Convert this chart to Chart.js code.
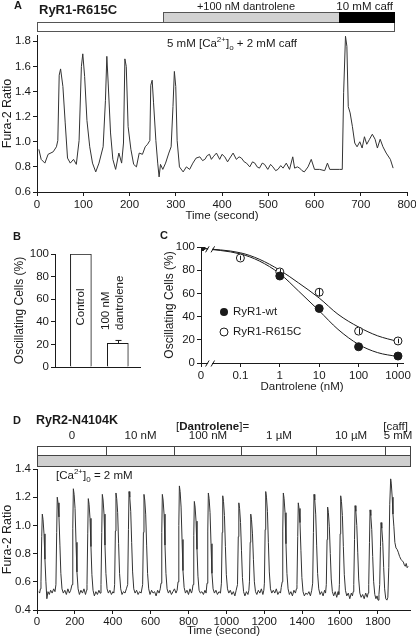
<!DOCTYPE html>
<html>
<head>
<meta charset="utf-8">
<script src="https://cdn.jsdelivr.net/npm/chart.js@4.4.1/dist/chart.umd.min.js"></script>
<style>
  body { margin: 0; background: #fff; }
  #fig { position: relative; width: 416px; height: 641px; overflow: hidden; font-family: "Liberation Sans", Arial, Helvetica, sans-serif; color: #1a1a1a; }
  #fig canvas { position: absolute; }
  .t { position: absolute; white-space: nowrap; font-size: 11.5px; line-height: 14px; }
  .b { font-weight: bold; }
  sup, sub { font-size: 8px; line-height: 0; }
</style>
</head>
<body>
<div id="fig">
  <canvas id="cA" width="420" height="225" style="left:0;top:0"></canvas>
  <canvas id="cB" width="150" height="160" style="left:0;top:228px"></canvas>
  <canvas id="cC" width="270" height="170" style="left:150px;top:228px"></canvas>
  <canvas id="cD" width="420" height="226" style="left:0;top:415px"></canvas>

  <div class="t b" style="left:14px;top:-2px;font-size:11px">A</div>
  <div class="t b" style="left:39px;top:3px;font-size:13px">RyR1-R615C</div>
  <div class="t" style="left:246px;top:-1px;transform:translateX(-50%);font-size:11px">+100 nM dantrolene</div>
  <div class="t" style="right:23px;top:-1px">10 mM caff</div>
  <div class="t" style="left:232px;top:36px;transform:translateX(-50%)">5 mM [Ca<sup>2+</sup>]<sub>o</sub> + 2 mM caff</div>

  <div class="t b" style="left:13px;top:229px;font-size:11px">B</div>
  <div class="t b" style="left:160px;top:228px;font-size:11px">C</div>

  <div class="t b" style="left:13px;top:413px;font-size:11px">D</div>
  <div class="t b" style="left:36px;top:413px;font-size:12.5px">RyR2-N4104K</div>
  <div class="t" style="left:176px;top:419px">[<b>Dantrolene</b>]=</div>
  <div class="t" style="right:8px;top:419px">[caff]</div>
  <div class="t" style="left:56px;top:468px">[Ca<sup>2+</sup>]<sub>0</sub> = 2 mM</div>
</div>

<script>
const FONT = '"Liberation Sans", Arial, Helvetica, sans-serif';
const INK = '#1a1a1a';

// ---- panel A: fura-2 trace, RyR1-R615C  [time (s), ratio]
const traceA = [
  [4,0.94],[9,0.86],[17,0.83],[24,0.90],[35,0.92],[42,0.96],[45,1.01],[48,1.53],[51,1.58],[56,1.44],
  [61,1.15],[66,0.87],[72,0.83],[79,0.86],[85,0.82],[91,1.01],[96,1.60],[99,1.70],[103,1.52],[108,1.17],
  [114,0.96],[120,0.83],[127,0.76],[134,0.83],[143,0.96],[148,1.33],[151,1.68],[154,1.46],[159,1.07],[164,0.86],
  [170,0.78],[177,0.91],[183,0.83],[187,0.99],[190,1.66],[193,1.60],[197,1.12],[203,0.94],[209,0.82],[215,0.80],
  [221,0.91],[228,0.90],[234,0.96],[239,0.98],[244,1.01],[246,1.45],[249,1.49],[252,1.31],[257,1.01],[261,0.83],
  [264,0.72],[267,0.82],[272,0.78],[278,0.83],[285,0.91],[290,0.96],[294,1.28],[297,1.56],[300,1.44],[303,1.01],
  [308,0.80],[316,0.76],[323,0.80],[330,0.78],[337,0.83],[344,0.87],[352,0.88],[358,0.85],[363,0.86],[368,0.89],
  [373,0.90],[377,0.86],[381,0.88],[388,0.91],[395,0.86],[400,0.90],[406,0.88],[412,0.84],[417,0.87],[424,0.91],
  [431,0.86],[437,0.88],[442,0.87],[448,0.84],[453,0.83],[460,0.80],[466,0.84],[471,0.83],[476,0.80],[481,0.79],
  [487,0.83],[492,0.82],[499,0.78],[505,0.82],[510,0.80],[516,0.77],[521,0.78],[527,0.81],[532,0.79],[539,0.83],
  [546,0.78],[553,0.88],[557,0.79],[563,0.80],[568,0.79],[573,0.77],[578,0.76],[586,0.80],[593,0.86],[600,0.78],
  [611,0.78],[622,0.77],[628,0.83],[633,0.78],[640,0.78],[654,0.78],[660,0.78],[663,1.39],[667,1.84],[670,1.76],
  [673,1.28],[677,1.23],[682,1.12],[687,0.99],[692,0.96],[698,1.00],[703,0.95],[708,1.04],[713,0.98],[719,1.02],
  [725,1.06],[731,1.02],[736,0.95],[742,1.02],[748,0.96],[755,0.91],[764,0.86],[770,0.79]
];
const barTimesA = [0, 272, 653, 772];          // record start | +dantrolene | 10 mM caff | end
const xTicksA = [0, 100, 200, 300, 400, 500, 600, 700, 800];
const yTicksA = [0.6, 0.8, 1.0, 1.2, 1.4, 1.6, 1.8];

// ---- panel B: oscillating cells
const groupsB = [['Control'], ['100 nM', 'dantrolene']];
const pctB = [100, 21];
const errB = [0, 2.5];
const yTicksB = [0, 20, 40, 60, 80, 100];

// ---- panel C: dose response (0 nM drawn at the axis break)
const concC = [0, 0.1, 1, 10, 100, 1000];
const wtC = [100, null, 75, 47, 14, 6];
const wtErrC = [0, 0, 2, 3, 1.5, 1];
const mutC = [100, 90.5, 78.5, 61, 27.5, 19];
const mutErrC = [0, 2, 2.5, 3.5, 2.5, 2];
const fitConcC = [0, 0.1, 0.3, 1, 3, 10, 30, 100, 300, 1000];
const wtFitC = [99, 94, 88, 77, 62, 45, 29, 16, 9, 5.5];
const mutFitC = [99, 95, 89.5, 80, 69, 56, 42, 31, 23.5, 18.5];
const xTickLabelsC = ['0', '0.1', '1', '10', '100', '1000'];
const yTicksC = [0, 20, 40, 60, 80, 100];
const ZERO_AT = 0.01;

// ---- panel D: fura-2 trace, RyR2-N4104K  [time (s), ratio]
const traceD = [
  [10,0.53],[14,0.52],[18,0.55],[21,0.60],[25,0.92],[28,1.08],[32,1.04],[37,0.94],[42,0.76],[47,0.60],
  [52,0.48],[58,0.53],[65,0.51],[72,0.54],[80,0.52],[88,0.55],[95,0.53],
  [100,0.58],[104,0.95],[107,1.20],[111,1.16],[116,1.06],[121,0.86],[126,0.66],[132,0.55],[139,0.52],[147,0.54],
  [155,0.51],[163,0.55],[171,0.52],[178,0.54],
  [185,0.58],[189,0.98],[192,1.26],[196,1.22],[201,1.12],[206,0.88],[211,0.67],[217,0.55],[224,0.51],[232,0.54],
  [240,0.52],[248,0.55],[256,0.51],[262,0.54],
  [264,0.58],[268,0.94],[271,1.19],[275,1.15],[280,1.05],[285,0.85],[290,0.65],[296,0.54],[303,0.50],[311,0.53],
  [319,0.51],[327,0.54],[333,0.52],
  [338,0.58],[342,0.95],[345,1.22],[349,1.18],[354,1.08],[359,0.86],[364,0.66],[370,0.55],[377,0.52],[385,0.54],
  [393,0.51],[401,0.53],[406,0.52],
  [410,0.58],[414,0.96],[417,1.23],[421,1.19],[426,1.09],[431,0.87],[436,0.66],[442,0.55],[449,0.51],[457,0.53],
  [465,0.52],[472,0.55],
  [479,0.58],[483,0.97],[486,1.24],[490,1.20],[495,1.10],[500,0.88],[505,0.67],[511,0.55],[518,0.52],[526,0.54],
  [534,0.51],[542,0.53],[550,0.52],
  [558,0.58],[562,0.95],[565,1.22],[569,1.18],[574,1.08],[579,0.86],[584,0.66],[590,0.55],[597,0.51],[605,0.54],
  [613,0.52],[621,0.53],[629,0.50],[637,0.54],[645,0.52],[651,0.55],
  [655,0.59],[659,0.95],[662,1.22],[666,1.18],[671,1.08],[676,0.86],[681,0.66],[687,0.55],[694,0.52],[702,0.54],
  [710,0.51],[718,0.53],[726,0.55],[734,0.52],[740,0.54],
  [745,0.60],[749,1.00],[752,1.28],[756,1.24],[761,1.13],[766,0.90],[771,0.68],[777,0.56],[784,0.52],[792,0.54],
  [800,0.51],[808,0.55],[816,0.52],[820,0.54],
  [824,0.58],[828,0.93],[831,1.17],[835,1.13],[840,1.03],[845,0.83],[850,0.64],[856,0.54],[863,0.52],[871,0.53],
  [879,0.51],[887,0.54],[893,0.52],
  [898,0.59],[902,0.96],[905,1.23],[909,1.19],[914,1.09],[919,0.87],[924,0.66],[930,0.55],[937,0.52],[945,0.54],
  [953,0.51],[961,0.53],[969,0.52],
  [974,0.59],[978,0.95],[981,1.21],[985,1.17],[990,1.07],[995,0.85],[1000,0.65],[1006,0.55],[1013,0.52],[1021,0.54],
  [1029,0.51],[1037,0.53],[1045,0.50],[1052,0.54],
  [1059,0.58],[1063,0.92],[1066,1.16],[1070,1.12],[1075,1.02],[1080,0.82],[1085,0.63],[1091,0.53],[1098,0.50],[1106,0.53],
  [1114,0.51],[1119,0.54],
  [1122,0.60],[1126,0.88],[1129,1.08],[1133,1.04],[1138,0.94],[1143,0.76],[1148,0.60],[1154,0.53],[1161,0.51],[1169,0.54],
  [1177,0.52],[1185,0.55],[1193,0.51],[1198,0.54],
  [1201,0.59],[1205,0.97],[1208,1.24],[1212,1.20],[1217,1.10],[1222,0.88],[1227,0.67],[1233,0.55],[1240,0.52],[1248,0.54],
  [1256,0.52],[1264,0.55],[1272,0.51],[1280,0.53],[1286,0.52],[1290,0.56],
  [1295,0.60],[1298,0.96],[1301,1.23],[1305,1.19],[1310,1.09],[1315,0.87],[1320,0.66],[1326,0.55],[1333,0.51],[1341,0.53],
  [1349,0.50],[1357,0.54],[1365,0.52],[1370,0.55],
  [1373,0.58],[1377,0.92],[1380,1.16],[1384,1.12],[1389,1.02],[1394,0.82],[1399,0.63],[1405,0.53],[1412,0.50],[1420,0.52],
  [1428,0.51],[1436,0.53],[1444,0.50],[1451,0.54],
  [1456,0.59],[1460,0.95],[1463,1.22],[1467,1.18],[1472,1.08],[1477,0.86],[1482,0.66],[1488,0.55],[1495,0.51],[1503,0.53],
  [1511,0.50],[1519,0.54],[1524,0.52],
  [1528,0.58],[1532,0.90],[1535,1.13],[1539,1.09],[1544,0.99],[1549,0.80],[1554,0.62],[1560,0.53],[1567,0.50],[1575,0.53],
  [1583,0.49],[1590,0.53],[1594,0.51],
  [1597,0.58],[1601,0.94],[1604,1.21],[1608,1.17],[1613,1.07],[1618,0.85],[1623,0.65],[1629,0.54],[1636,0.50],[1644,0.52],
  [1652,0.48],[1660,0.52],[1666,0.50],[1670,0.53],
  [1673,0.58],[1677,0.90],[1680,1.14],[1684,1.10],[1689,1.00],[1694,0.81],[1699,0.62],[1705,0.52],[1712,0.49],[1720,0.51],
  [1728,0.48],[1736,0.52],[1744,0.49],[1749,0.52],
  [1752,0.58],[1756,0.88],[1759,1.11],[1763,1.07],[1768,0.97],[1773,0.78],[1778,0.60],[1784,0.51],[1790,0.48],[1796,0.50],
  [1801,0.47],[1806,0.51],
  [1810,0.58],[1814,0.85],[1817,1.02],[1821,0.98],[1826,0.88],[1831,0.70],[1836,0.55],[1842,0.48],[1848,0.47],[1853,0.49],
  [1858,0.70],[1863,1.15],[1868,1.33],[1871,1.30],[1876,1.20],[1880,1.08],[1885,0.99],[1890,0.88],[1896,0.84],[1902,0.83],
  [1908,0.81],[1915,0.78],[1922,0.76],[1928,0.75],[1935,0.74],[1940,0.72],[1945,0.71],[1950,0.73],[1955,0.70],[1960,0.71]
];
const doseEdgesD = [0, 364, 723, 1077, 1473, 1837, 1970];
const doseLabelsD = ['0', '10 nM', '100 nM', '1 \u00b5M', '10 \u00b5M', '5 mM'];
const xTicksD = [0, 200, 400, 600, 800, 1000, 1200, 1400, 1600, 1800];
const yTicksD = [0.4, 0.6, 0.8, 1.0, 1.2, 1.4];

// shared axis look: black axis line, short outward ticks, no grid
function axis(o) {
  return {
    type: o.type || 'linear',
    min: o.min, max: o.max,
    afterFit: o.fit,
    afterBuildTicks: s => { s.ticks = (o.ticks || []).map(v => ({value: v})); },
    grid: {display: o.marks !== false, drawOnChartArea: false, tickLength: 4, color: INK, lineWidth: 1},
    border: {display: true, color: INK, width: 1},
    ticks: {display: o.marks !== false, color: INK, font: {family: FONT, size: 11.5}, padding: o.pad || 2,
            maxRotation: 0, autoSkip: false, callback: o.fmt || (v => String(v))},
    title: o.title ? {display: true, text: o.title, color: INK, font: {family: FONT, size: o.tsize || 11.5},
                      padding: o.tpad || 0} : {display: false}
  };
}
const base = {responsive: false, animation: false, plugins: {legend: {display: false}, tooltip: {enabled: false}}};
const pts = arr => arr.map(p => ({x: p[0], y: p[1]}));

function box(ctx, x0, x1, y0, y1, fill, stroke) {
  ctx.fillStyle = fill; ctx.fillRect(x0, y0, x1 - x0, y1 - y0);
  ctx.strokeStyle = stroke; ctx.strokeRect(x0, y0, x1 - x0, y1 - y0);
}

// A: solution bars above the trace
const headerA = {
  id: 'headerA',
  afterDraw(chart) {
    const ctx = chart.ctx, px = t => Math.round(chart.scales.x.getPixelForValue(t)) + 0.5;
    ctx.save(); ctx.lineWidth = 1;
    box(ctx, px(barTimesA[0]), px(barTimesA[3]), 22.5, 31.5, '#fff', '#555');
    box(ctx, px(barTimesA[1]), px(barTimesA[2]), 12.5, 22.5, '#d2d2d2', '#555');
    box(ctx, px(barTimesA[2]), px(barTimesA[3]), 12.5, 22.5, '#000', '#000');
    ctx.restore();
  }
};

new Chart(document.getElementById('cA'), {
  type: 'line',
  data: {datasets: [{data: pts(traceA), borderColor: '#333', borderWidth: 1, pointRadius: 0, tension: 0}]},
  options: {...base,
    layout: {padding: {top: 35, right: 13, left: 0, bottom: 0}},
    scales: {
      x: axis({min: 0, max: 800, ticks: xTicksA, fit: s => { s.height = 33; }, title: 'Time (second)', tpad: {top: 0, bottom: 2}}),
      y: axis({min: 0.6, max: 1.85, ticks: yTicksA, fit: s => { s.width = 37; }, fmt: v => v.toFixed(1),
               title: 'Fura-2 Ratio', tsize: 12.5, tpad: {top: 0, bottom: 0}})
    }
  },
  plugins: [headerA]
});

// B: bar labels + error bar
const labelsB = {
  id: 'labelsB',
  afterDatasetsDraw(chart) {
    const {ctx, scales: {x, y}} = chart;
    ctx.save();
    ctx.strokeStyle = INK; ctx.lineWidth = 1;
    pctB.forEach((v, i) => {
      if (!errB[i]) return;
      const cx = Math.round(x.getPixelForValue(i + 1)) + 0.5;
      const yt = y.getPixelForValue(v + errB[i]);
      ctx.beginPath();
      ctx.moveTo(cx, y.getPixelForValue(v)); ctx.lineTo(cx, yt);
      ctx.moveTo(cx - 3, yt); ctx.lineTo(cx + 3, yt);
      ctx.stroke();
    });
    ctx.fillStyle = INK; ctx.font = '11.5px ' + FONT;
    // "Control" centred inside its bar
    ctx.save();
    ctx.translate(x.getPixelForValue(1), 79); ctx.rotate(-Math.PI / 2);
    ctx.textAlign = 'center'; ctx.textBaseline = 'middle';
    ctx.fillText(groupsB[0][0], 0, 0);
    ctx.restore();
    // "100 nM / dantrolene" stacked above the short bar
    const bx = x.getPixelForValue(2);
    groupsB[1].forEach((line, k) => {
      ctx.save();
      ctx.translate(bx - 12 + k * 14, 102); ctx.rotate(-Math.PI / 2);
      ctx.textAlign = 'left'; ctx.textBaseline = 'middle';
      ctx.fillText(line, 0, 0);
      ctx.restore();
    });
    ctx.restore();
  }
};

new Chart(document.getElementById('cB'), {
  type: 'bar',
  data: {datasets: [{data: pctB.map((v, i) => ({x: i + 1, y: v})), backgroundColor: '#fff', borderColor: INK,
                     borderWidth: 1, barThickness: 21}]},
  options: {...base,
    layout: {padding: {top: 26, right: 10, left: 0, bottom: 0}},
    scales: {
      x: axis({min: 0.3, max: 2.6, marks: false, fit: s => { s.height = 21; }}),
      y: axis({min: 0, max: 100, ticks: yTicksB, fit: s => { s.width = 55; },
               title: 'Oscillating Cells (%)', tsize: 12, tpad: {top: 12, bottom: 0}})
    }
  },
  plugins: [labelsB]
});

// C: error bars, axis breaks and legend
const extrasC = {
  id: 'extrasC',
  afterDraw(chart) {
    const {ctx, scales: {x, y}} = chart;
    ctx.save();
    ctx.strokeStyle = INK; ctx.lineWidth = 1;
    const errs = (vals, errArr) => vals.forEach((v, i) => {
      if (v == null || !errArr[i]) return;
      const cx = Math.round(x.getPixelForValue(concC[i] || ZERO_AT)) + 0.5;
      ctx.beginPath();
      ctx.moveTo(cx, y.getPixelForValue(v - errArr[i])); ctx.lineTo(cx, y.getPixelForValue(v + errArr[i]));
      ctx.stroke();
    });
    errs(mutC, mutErrC);
    errs(wtC, wtErrC);
    // breaks between 0 and 0.1
    const bx = x.getPixelForValue(0.017);
    const brk = cy => {
      ctx.fillStyle = '#fff'; ctx.fillRect(bx - 2, cy - 4, 4, 8);
      ctx.beginPath();
      ctx.moveTo(bx - 4.5, cy + 3); ctx.lineTo(bx - 1, cy - 3);
      ctx.moveTo(bx + 1, cy + 3); ctx.lineTo(bx + 4.5, cy - 3);
      ctx.stroke();
    };
    brk(Math.round(y.bottom) + 0.5);
    brk(y.getPixelForValue(98));
    // legend
    ctx.font = '11.5px ' + FONT; ctx.textBaseline = 'middle'; ctx.textAlign = 'left';
    ctx.beginPath(); ctx.arc(74, 84, 4, 0, 2 * Math.PI); ctx.fillStyle = INK; ctx.fill();
    ctx.fillText('RyR1-wt', 83, 84);
    ctx.beginPath(); ctx.arc(74, 104, 4, 0, 2 * Math.PI); ctx.fillStyle = '#fff'; ctx.fill(); ctx.stroke();
    ctx.fillStyle = INK; ctx.fillText('RyR1-R615C', 83, 104);
    ctx.restore();
  }
};

const asXY = (cs, vs) => cs.map((c, i) => ({x: c || ZERO_AT, y: vs[i]})).filter(p => p.y != null);
new Chart(document.getElementById('cC'), {
  type: 'scatter',
  data: {datasets: [
    {label: 'RyR1-wt', data: asXY(concC, wtC), pointRadius: 4, pointBackgroundColor: INK, pointBorderColor: INK, pointBorderWidth: 1},
    {label: 'RyR1-R615C', data: asXY(concC, mutC), pointRadius: 4, pointBackgroundColor: '#fff', pointBorderColor: INK, pointBorderWidth: 1},
    {data: asXY(fitConcC, wtFitC), showLine: true, borderColor: INK, borderWidth: 1, pointRadius: 0, cubicInterpolationMode: 'monotone'},
    {data: asXY(fitConcC, mutFitC), showLine: true, borderColor: INK, borderWidth: 1, pointRadius: 0, cubicInterpolationMode: 'monotone'}
  ]},
  options: {...base,
    layout: {padding: {top: 19, right: 17, left: 0, bottom: 0}},
    scales: {
      x: axis({type: 'logarithmic', min: ZERO_AT, max: 1340, ticks: [0.01, 0.1, 1, 10, 100, 1000],
               fmt: (v, i) => xTickLabelsC[i], fit: s => { s.height = 35; }, title: 'Dantrolene (nM)', tpad: {top: 0, bottom: 4}}),
      y: axis({min: 0, max: 100, ticks: yTicksC, fit: s => { s.width = 51; },
               title: 'Oscillating Cells (%)', tsize: 12, tpad: {top: 12, bottom: 0}})
    }
  },
  plugins: [extrasC]
});

// D: dose segments + gray perfusion bar
const headerD = {
  id: 'headerD',
  afterDraw(chart) {
    const ctx = chart.ctx, px = t => Math.round(chart.scales.x.getPixelForValue(t)) + 0.5;
    ctx.save(); ctx.lineWidth = 1;
    for (let i = 0; i < doseLabelsD.length; i++) {
      box(ctx, px(doseEdgesD[i]), px(doseEdgesD[i + 1]), 31.5, 40.5, '#fff', '#444');
    }
    box(ctx, px(doseEdgesD[0]), px(doseEdgesD[doseEdgesD.length - 1]), 40.5, 51.5, '#cfcfcf', '#444');
    ctx.fillStyle = INK; ctx.font = '11.5px ' + FONT; ctx.textAlign = 'center'; ctx.textBaseline = 'middle';
    doseLabelsD.forEach((lab, i) => ctx.fillText(lab, (px(doseEdgesD[i]) + px(doseEdgesD[i + 1])) / 2, 21));
    ctx.restore();
  }
};

new Chart(document.getElementById('cD'), {
  type: 'line',
  data: {datasets: [{data: pts(traceD), borderColor: '#333', borderWidth: 1, pointRadius: 0, tension: 0}]},
  options: {...base,
    layout: {padding: {top: 54, right: 10, left: 0, bottom: 0}},
    scales: {
      x: axis({min: 0, max: 1970, ticks: xTicksD, fit: s => { s.height = 31; }, pad: 1, title: 'Time (second)', tpad: {top: 0, bottom: 3}}),
      y: axis({min: 0.4, max: 1.4, ticks: yTicksD, fit: s => { s.width = 37; }, fmt: v => v.toFixed(1),
               title: 'Fura-2 Ratio', tsize: 12.5, tpad: {top: 0, bottom: 0}})
    }
  },
  plugins: [headerD]
});
</script>
</body>
</html>
